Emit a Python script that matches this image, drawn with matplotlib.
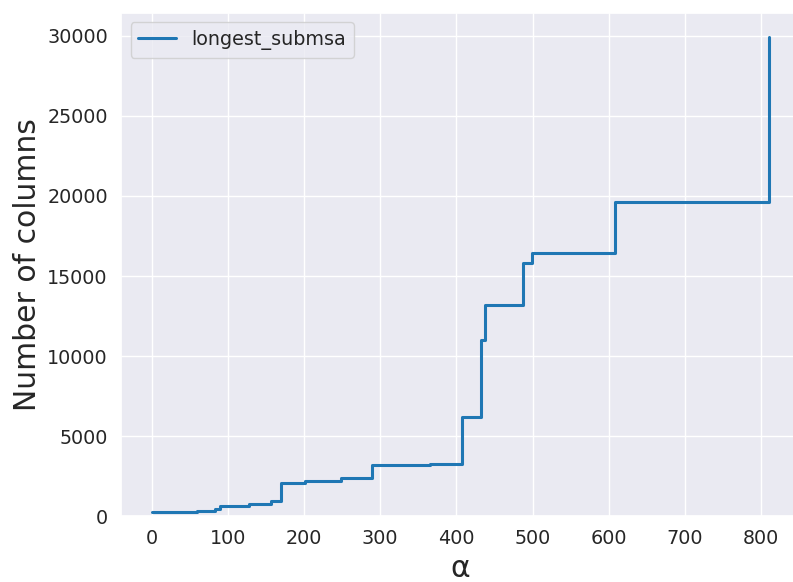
import matplotlib
matplotlib.use("Agg")
import matplotlib.pyplot as plt
import seaborn as sns

# alpha where the longest sub-MSA changes, and its length from there on
alpha = [0, 59, 83, 89, 127, 157, 170, 201, 248, 289, 365, 407, 433, 438, 487, 499, 609, 810]
n_columns = [250, 350, 455, 620, 790, 935, 2100, 2180, 2410, 3225, 3260, 6200,
             11020, 13220, 15820, 16420, 19600, 29950]

sns.set_theme(style="darkgrid", font_scale=1.25)

fig, ax = plt.subplots(figsize=(7.93, 5.82), dpi=100)
fig.subplots_adjust(left=0.1526, right=1.008, top=0.978, bottom=0.113)

ax.plot(alpha, n_columns, drawstyle="steps-post", color="#1f77b4",
        linewidth=2.2, label="longest_submsa")
ax.set_ylim(bottom=0)
ax.set_xticks(range(0, 900, 100))
ax.set_xlabel("α", fontsize=21.5)
ax.set_ylabel("Number of columns", fontsize=21.5)
ax.legend(loc="upper left")

fig.savefig("out.png", dpi=100)
